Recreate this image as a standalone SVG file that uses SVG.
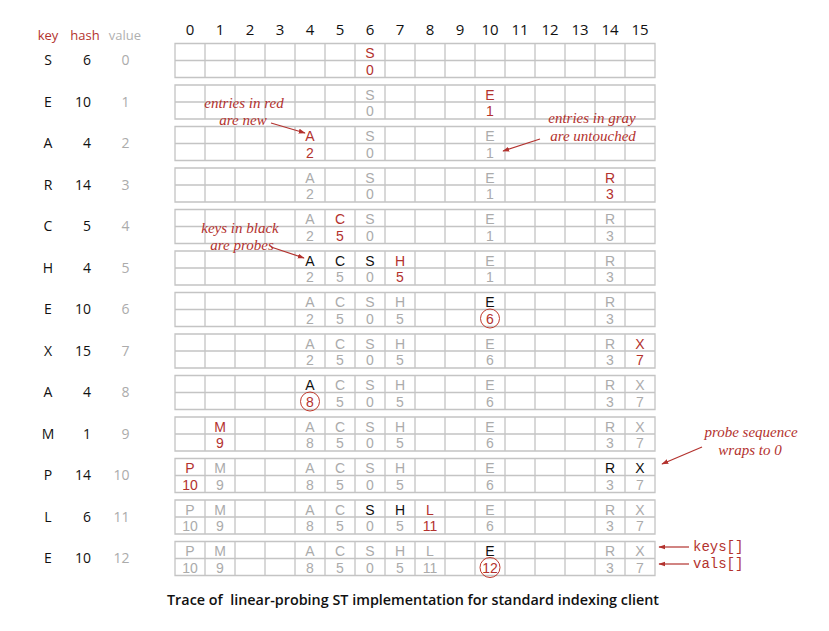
<svg xmlns="http://www.w3.org/2000/svg" xmlns:xlink="http://www.w3.org/1999/xlink" width="829" height="631" viewBox="0 0 829 631">
<style>
.grid{fill:none;stroke:#c4c4c4;stroke-width:1.3}
.c{font-family:"Liberation Sans",Arial,sans-serif;font-size:14px;text-anchor:middle}
.r{fill:#b3322e}
.k{fill:#111}
.g{fill:#ababab}
.lab{font-family:"Open Sans","Liberation Sans",sans-serif;font-size:14px}
.hd{font-family:"Open Sans","Liberation Sans",sans-serif;font-size:13px;text-anchor:middle}
.num{font-family:"Open Sans","Liberation Sans",sans-serif;font-size:15px;text-anchor:middle;fill:#111}
.note{font-family:"Liberation Serif",serif;font-style:italic;font-size:15px;fill:#b3322e;text-anchor:middle}
.arr{stroke:#b3322e;stroke-width:1.2;fill:none;marker-end:url(#ah)}
.circ{fill:none;stroke:#c0392b;stroke-width:1}
.mono{font-family:"Liberation Mono",monospace;font-size:14px;fill:#b3322e}
</style>
<defs>
<marker id="ah" viewBox="0 0 10 10" refX="9" refY="5" markerWidth="7" markerHeight="7" orient="auto" markerUnits="userSpaceOnUse">
<path d="M0,1.5 L10,5 L0,8.5 z" fill="#b3322e"/>
</marker>
<path id="rowgrid" class="grid" d="M175,0.5H655V34.5H175Z M175,17.5H655 M205,0.5V34.5 M235,0.5V34.5 M265,0.5V34.5 M295,0.5V34.5 M325,0.5V34.5 M355,0.5V34.5 M385,0.5V34.5 M415,0.5V34.5 M445,0.5V34.5 M475,0.5V34.5 M505,0.5V34.5 M535,0.5V34.5 M565,0.5V34.5 M595,0.5V34.5 M625,0.5V34.5"/>
</defs>
<rect width="829" height="631" fill="#fff"/>

<g id="header">
<text class="hd" x="48" y="40" fill="#b3322e">key</text>
<text class="hd" x="85" y="40" fill="#b3322e">hash</text>
<text class="hd" x="125" y="40" fill="#b0b0b0">value</text>
<text class="num" x="190" y="35">0</text><text class="num" x="220" y="35">1</text><text class="num" x="250" y="35">2</text><text class="num" x="280" y="35">3</text>
<text class="num" x="310" y="35">4</text><text class="num" x="340" y="35">5</text><text class="num" x="370" y="35">6</text><text class="num" x="400" y="35">7</text>
<text class="num" x="430" y="35">8</text><text class="num" x="460" y="35">9</text><text class="num" x="490" y="35">10</text><text class="num" x="520" y="35">11</text>
<text class="num" x="550" y="35">12</text><text class="num" x="580" y="35">13</text><text class="num" x="610" y="35">14</text><text class="num" x="640" y="35">15</text>
</g>

<!-- row 0: S 6 0 -->
<g id="row0" transform="translate(0,43)">
<use xlink:href="#rowgrid"/>
<text class="lab k" x="48" y="22" text-anchor="middle">S</text><text class="lab k" x="91" y="22" text-anchor="end">6</text><text class="lab g" x="129.5" y="22" text-anchor="end">0</text>
<text class="c r" x="370" y="15">S</text><text class="c r" x="370" y="31.5">0</text>
</g>

<!-- row 1: E 10 1 -->
<g id="row1" transform="translate(0,84.5)">
<use xlink:href="#rowgrid"/>
<text class="lab k" x="48" y="22" text-anchor="middle">E</text><text class="lab k" x="91" y="22" text-anchor="end">10</text><text class="lab g" x="129.5" y="22" text-anchor="end">1</text>
<text class="c g" x="370" y="15">S</text><text class="c g" x="370" y="31.5">0</text>
<text class="c r" x="490" y="15">E</text><text class="c r" x="490" y="31.5">1</text>
</g>

<!-- row 2: A 4 2 -->
<g id="row2" transform="translate(0,126)">
<use xlink:href="#rowgrid"/>
<text class="lab k" x="48" y="22" text-anchor="middle">A</text><text class="lab k" x="91" y="22" text-anchor="end">4</text><text class="lab g" x="129.5" y="22" text-anchor="end">2</text>
<text class="c r" x="310" y="15">A</text><text class="c r" x="310" y="31.5">2</text>
<text class="c g" x="370" y="15">S</text><text class="c g" x="370" y="31.5">0</text>
<text class="c g" x="490" y="15">E</text><text class="c g" x="490" y="31.5">1</text>
</g>

<!-- row 3: R 14 3 -->
<g id="row3" transform="translate(0,167.5)">
<use xlink:href="#rowgrid"/>
<text class="lab k" x="48" y="22" text-anchor="middle">R</text><text class="lab k" x="91" y="22" text-anchor="end">14</text><text class="lab g" x="129.5" y="22" text-anchor="end">3</text>
<text class="c g" x="310" y="15">A</text><text class="c g" x="310" y="31.5">2</text>
<text class="c g" x="370" y="15">S</text><text class="c g" x="370" y="31.5">0</text>
<text class="c g" x="490" y="15">E</text><text class="c g" x="490" y="31.5">1</text>
<text class="c r" x="610" y="15">R</text><text class="c r" x="610" y="31.5">3</text>
</g>

<!-- row 4: C 5 4 -->
<g id="row4" transform="translate(0,209)">
<use xlink:href="#rowgrid"/>
<text class="lab k" x="48" y="22" text-anchor="middle">C</text><text class="lab k" x="91" y="22" text-anchor="end">5</text><text class="lab g" x="129.5" y="22" text-anchor="end">4</text>
<text class="c g" x="310" y="15">A</text><text class="c g" x="310" y="31.5">2</text>
<text class="c r" x="340" y="15">C</text><text class="c r" x="340" y="31.5">5</text>
<text class="c g" x="370" y="15">S</text><text class="c g" x="370" y="31.5">0</text>
<text class="c g" x="490" y="15">E</text><text class="c g" x="490" y="31.5">1</text>
<text class="c g" x="610" y="15">R</text><text class="c g" x="610" y="31.5">3</text>
</g>

<!-- row 5: H 4 5 -->
<g id="row5" transform="translate(0,250.5)">
<use xlink:href="#rowgrid"/>
<text class="lab k" x="48" y="22" text-anchor="middle">H</text><text class="lab k" x="91" y="22" text-anchor="end">4</text><text class="lab g" x="129.5" y="22" text-anchor="end">5</text>
<text class="c k" x="310" y="15">A</text><text class="c g" x="310" y="31.5">2</text>
<text class="c k" x="340" y="15">C</text><text class="c g" x="340" y="31.5">5</text>
<text class="c k" x="370" y="15">S</text><text class="c g" x="370" y="31.5">0</text>
<text class="c r" x="400" y="15">H</text><text class="c r" x="400" y="31.5">5</text>
<text class="c g" x="490" y="15">E</text><text class="c g" x="490" y="31.5">1</text>
<text class="c g" x="610" y="15">R</text><text class="c g" x="610" y="31.5">3</text>
</g>

<!-- row 6: E 10 6 -->
<g id="row6" transform="translate(0,292)">
<use xlink:href="#rowgrid"/>
<text class="lab k" x="48" y="22" text-anchor="middle">E</text><text class="lab k" x="91" y="22" text-anchor="end">10</text><text class="lab g" x="129.5" y="22" text-anchor="end">6</text>
<text class="c g" x="310" y="15">A</text><text class="c g" x="310" y="31.5">2</text>
<text class="c g" x="340" y="15">C</text><text class="c g" x="340" y="31.5">5</text>
<text class="c g" x="370" y="15">S</text><text class="c g" x="370" y="31.5">0</text>
<text class="c g" x="400" y="15">H</text><text class="c g" x="400" y="31.5">5</text>
<text class="c k" x="490" y="15">E</text><text class="c r" x="490" y="31.5">6</text>
<circle class="circ" cx="490" cy="26.5" r="9.5"/>
<text class="c g" x="610" y="15">R</text><text class="c g" x="610" y="31.5">3</text>
</g>

<!-- row 7: X 15 7 -->
<g id="row7" transform="translate(0,333.5)">
<use xlink:href="#rowgrid"/>
<text class="lab k" x="48" y="22" text-anchor="middle">X</text><text class="lab k" x="91" y="22" text-anchor="end">15</text><text class="lab g" x="129.5" y="22" text-anchor="end">7</text>
<text class="c g" x="310" y="15">A</text><text class="c g" x="310" y="31.5">2</text>
<text class="c g" x="340" y="15">C</text><text class="c g" x="340" y="31.5">5</text>
<text class="c g" x="370" y="15">S</text><text class="c g" x="370" y="31.5">0</text>
<text class="c g" x="400" y="15">H</text><text class="c g" x="400" y="31.5">5</text>
<text class="c g" x="490" y="15">E</text><text class="c g" x="490" y="31.5">6</text>
<text class="c g" x="610" y="15">R</text><text class="c g" x="610" y="31.5">3</text>
<text class="c r" x="640" y="15">X</text><text class="c r" x="640" y="31.5">7</text>
</g>

<!-- row 8: A 4 8 -->
<g id="row8" transform="translate(0,375)">
<use xlink:href="#rowgrid"/>
<text class="lab k" x="48" y="22" text-anchor="middle">A</text><text class="lab k" x="91" y="22" text-anchor="end">4</text><text class="lab g" x="129.5" y="22" text-anchor="end">8</text>
<text class="c k" x="310" y="15">A</text><text class="c r" x="310" y="31.5">8</text>
<circle class="circ" cx="310" cy="26.5" r="9.5"/>
<text class="c g" x="340" y="15">C</text><text class="c g" x="340" y="31.5">5</text>
<text class="c g" x="370" y="15">S</text><text class="c g" x="370" y="31.5">0</text>
<text class="c g" x="400" y="15">H</text><text class="c g" x="400" y="31.5">5</text>
<text class="c g" x="490" y="15">E</text><text class="c g" x="490" y="31.5">6</text>
<text class="c g" x="610" y="15">R</text><text class="c g" x="610" y="31.5">3</text>
<text class="c g" x="640" y="15">X</text><text class="c g" x="640" y="31.5">7</text>
</g>

<!-- row 9: M 1 9 -->
<g id="row9" transform="translate(0,416.5)">
<use xlink:href="#rowgrid"/>
<text class="lab k" x="48" y="22" text-anchor="middle">M</text><text class="lab k" x="91" y="22" text-anchor="end">1</text><text class="lab g" x="129.5" y="22" text-anchor="end">9</text>
<text class="c r" x="220" y="15">M</text><text class="c r" x="220" y="31.5">9</text>
<text class="c g" x="310" y="15">A</text><text class="c g" x="310" y="31.5">8</text>
<text class="c g" x="340" y="15">C</text><text class="c g" x="340" y="31.5">5</text>
<text class="c g" x="370" y="15">S</text><text class="c g" x="370" y="31.5">0</text>
<text class="c g" x="400" y="15">H</text><text class="c g" x="400" y="31.5">5</text>
<text class="c g" x="490" y="15">E</text><text class="c g" x="490" y="31.5">6</text>
<text class="c g" x="610" y="15">R</text><text class="c g" x="610" y="31.5">3</text>
<text class="c g" x="640" y="15">X</text><text class="c g" x="640" y="31.5">7</text>
</g>

<!-- row 10: P 14 10 -->
<g id="row10" transform="translate(0,458)">
<use xlink:href="#rowgrid"/>
<text class="lab k" x="48" y="22" text-anchor="middle">P</text><text class="lab k" x="91" y="22" text-anchor="end">14</text><text class="lab g" x="129.5" y="22" text-anchor="end">10</text>
<text class="c r" x="190" y="15">P</text><text class="c r" x="190" y="31.5">10</text>
<text class="c g" x="220" y="15">M</text><text class="c g" x="220" y="31.5">9</text>
<text class="c g" x="310" y="15">A</text><text class="c g" x="310" y="31.5">8</text>
<text class="c g" x="340" y="15">C</text><text class="c g" x="340" y="31.5">5</text>
<text class="c g" x="370" y="15">S</text><text class="c g" x="370" y="31.5">0</text>
<text class="c g" x="400" y="15">H</text><text class="c g" x="400" y="31.5">5</text>
<text class="c g" x="490" y="15">E</text><text class="c g" x="490" y="31.5">6</text>
<text class="c k" x="610" y="15">R</text><text class="c g" x="610" y="31.5">3</text>
<text class="c k" x="640" y="15">X</text><text class="c g" x="640" y="31.5">7</text>
</g>

<!-- row 11: L 6 11 -->
<g id="row11" transform="translate(0,499.5)">
<use xlink:href="#rowgrid"/>
<text class="lab k" x="48" y="22" text-anchor="middle">L</text><text class="lab k" x="91" y="22" text-anchor="end">6</text><text class="lab g" x="129.5" y="22" text-anchor="end">11</text>
<text class="c g" x="190" y="15">P</text><text class="c g" x="190" y="31.5">10</text>
<text class="c g" x="220" y="15">M</text><text class="c g" x="220" y="31.5">9</text>
<text class="c g" x="310" y="15">A</text><text class="c g" x="310" y="31.5">8</text>
<text class="c g" x="340" y="15">C</text><text class="c g" x="340" y="31.5">5</text>
<text class="c k" x="370" y="15">S</text><text class="c g" x="370" y="31.5">0</text>
<text class="c k" x="400" y="15">H</text><text class="c g" x="400" y="31.5">5</text>
<text class="c r" x="430" y="15">L</text><text class="c r" x="430" y="31.5">11</text>
<text class="c g" x="490" y="15">E</text><text class="c g" x="490" y="31.5">6</text>
<text class="c g" x="610" y="15">R</text><text class="c g" x="610" y="31.5">3</text>
<text class="c g" x="640" y="15">X</text><text class="c g" x="640" y="31.5">7</text>
</g>

<!-- row 12: E 10 12 -->
<g id="row12" transform="translate(0,541)">
<use xlink:href="#rowgrid"/>
<text class="lab k" x="48" y="22" text-anchor="middle">E</text><text class="lab k" x="91" y="22" text-anchor="end">10</text><text class="lab g" x="129.5" y="22" text-anchor="end">12</text>
<text class="c g" x="190" y="15">P</text><text class="c g" x="190" y="31.5">10</text>
<text class="c g" x="220" y="15">M</text><text class="c g" x="220" y="31.5">9</text>
<text class="c g" x="310" y="15">A</text><text class="c g" x="310" y="31.5">8</text>
<text class="c g" x="340" y="15">C</text><text class="c g" x="340" y="31.5">5</text>
<text class="c g" x="370" y="15">S</text><text class="c g" x="370" y="31.5">0</text>
<text class="c g" x="400" y="15">H</text><text class="c g" x="400" y="31.5">5</text>
<text class="c g" x="430" y="15">L</text><text class="c g" x="430" y="31.5">11</text>
<text class="c k" x="490" y="15">E</text><text class="c r" x="490" y="31.5">12</text>
<circle class="circ" cx="490" cy="26.5" r="10"/>
<text class="c g" x="610" y="15">R</text><text class="c g" x="610" y="31.5">3</text>
<text class="c g" x="640" y="15">X</text><text class="c g" x="640" y="31.5">7</text>
</g>

<g id="annotations">
<text class="note" x="244" y="108">entries in red</text>
<text class="note" x="243" y="125">are new</text>
<text class="note" x="592" y="123">entries in gray</text>
<text class="note" x="593" y="141">are untouched</text>
<text class="note" x="240" y="233">keys in black</text>
<text class="note" x="242" y="250">are probes</text>
<text class="note" x="751" y="437">probe sequence</text>
<text class="note" x="750" y="455">wraps to 0</text>
<text class="mono" x="693" y="551">keys[]</text>
<text class="mono" x="693" y="568">vals[]</text>
</g>

<g id="connectors">
<path class="arr" d="M271,123 L305,133"/>
<path class="arr" d="M540,139 L503,151"/>
<path class="arr" d="M271,247 L304,258"/>
<path class="arr" d="M702,447 L662,464"/>
<path class="arr" d="M689,547 L659,547"/>
<path class="arr" d="M689,564 L659,564"/>
</g>

<text id="caption" x="413" y="605" text-anchor="middle" font-family="Open Sans, Liberation Sans, sans-serif" font-size="14.5" font-weight="600" fill="#111" style="white-space:pre" textLength="492" lengthAdjust="spacingAndGlyphs">Trace of  linear-probing ST implementation for standard indexing client</text>
</svg>
